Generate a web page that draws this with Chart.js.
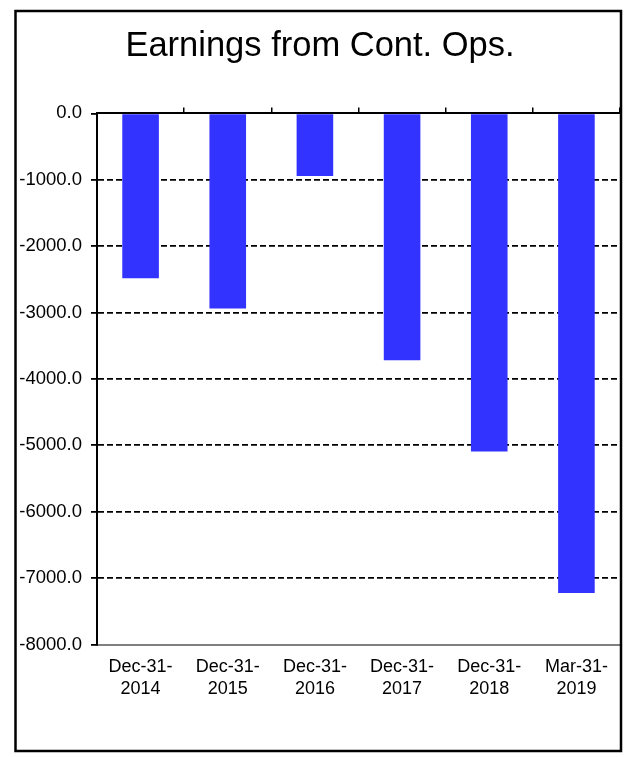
<!DOCTYPE html>
<html>
<head>
<meta charset="utf-8">
<script src="https://cdn.jsdelivr.net/npm/chart.js@4"></script>
<style>
  html, body { margin: 0; padding: 0; background: #fff; }
  canvas { display: block; }
</style>
</head>
<body>
<canvas id="c" width="633" height="757"></canvas>
<script>
const chartTitle = 'Earnings from Cont. Ops.';
const categories = ['Dec-31-2014', 'Dec-31-2015', 'Dec-31-2016', 'Dec-31-2017', 'Dec-31-2018', 'Mar-31-2019'];
const earnings = [-2485, -2937, -943, -3720, -5093, -7223];
const yMin = -8000;
const yMax = 0;
const yStep = 1000;

// two-line tick labels, e.g. ['Dec-31-', '2014']
const tickLabels = categories.map(c => {
  const i = c.lastIndexOf('-');
  return [c.slice(0, i + 1), c.slice(i + 1)];
});

const FONT = "'Liberation Sans', Arial, sans-serif";

const framePlugin = {
  id: 'frame',
  afterDraw(chart) {
    const ctx = chart.ctx;
    ctx.save();
    ctx.strokeStyle = '#000';
    ctx.lineWidth = 2.5;
    ctx.strokeRect(15.5, 11, 605.5, 740);
    ctx.restore();
  }
};

new Chart(document.getElementById('c'), {
  type: 'bar',
  data: {
    labels: tickLabels,
    datasets: [{
      data: earnings,
      backgroundColor: '#3333FF',
      borderWidth: 0,
      barPercentage: 0.42,
      categoryPercentage: 1.0
    }]
  },
  plugins: [framePlugin],
  options: {
    responsive: false,
    animation: false,
    layout: { padding: { left: 7, right: 0, top: 0, bottom: 0 } },
    plugins: {
      legend: { display: false },
      tooltip: { enabled: false },
      title: {
        display: true,
        text: chartTitle,
        color: '#000',
        font: { family: FONT, size: 34.5, weight: 'normal', lineHeight: 1.2 },
        padding: { top: 26, bottom: 40 }
      }
    },
    scales: {
      x: {
        type: 'category',
        position: 'bottom',
        offset: true,
        grid: { display: false, drawTicks: false },
        border: { display: true, color: '#808080', width: 2 },
        ticks: {
          color: '#000',
          font: { family: FONT, size: 18, lineHeight: 1.22 },
          padding: 12,
          maxRotation: 0,
          autoSkip: false
        },
        afterFit(scale) { scale.height = 757 - 644.5; }
      },
      x2: {
        type: 'category',
        position: 'top',
        offset: true,
        grid: {
          display: true,
          offset: true,
          drawOnChartArea: false,
          drawTicks: true,
          tickLength: 6,
          lineWidth: 1.5,
          color: '#000',
          tickColor: c => (c.index === 0 ? 'rgba(0,0,0,0)' : '#000')
        },
        border: { display: true, color: '#000', width: 2 },
        ticks: { display: false },
        afterFit(scale) { scale.height = 6; }
      },
      y: {
        position: 'left',
        min: yMin,
        max: yMax,
        ticks: {
          stepSize: yStep,
          color: '#000',
          font: { family: FONT, size: 18.5 },
          padding: 9,
          callback: v => Number(v).toFixed(1)
        },
        grid: {
          display: true,
          drawOnChartArea: true,
          drawTicks: true,
          tickLength: 6,
          lineWidth: 1.8,
          color: c => (c.tick && (c.tick.value === yMax || c.tick.value === yMin)) ? 'rgba(0,0,0,0)' : '#000',
          tickColor: '#000',
          tickWidth: 1.8
        },
        border: { display: true, color: '#000', width: 2, dash: [6, 3] },
        afterFit(scale) { scale.width = 90; }
      },
      yRight: {
        position: 'right',
        display: true,
        grid: { display: false, drawTicks: false },
        border: { display: false },
        ticks: { display: false },
        afterFit(scale) { scale.width = 13; }
      }
    }
  }
});
</script>
</body>
</html>
